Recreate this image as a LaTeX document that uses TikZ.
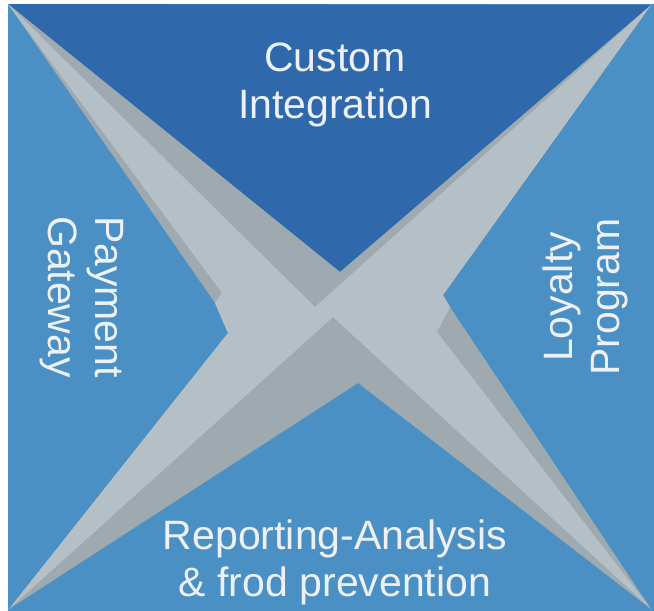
\documentclass[tikz,border=0pt]{standalone}
\usepackage{fontspec}
\setmainfont{Liberation Sans}
\usepackage{tikz}

\definecolor{fieldblue}{HTML}{4A90C4}
\definecolor{topblue}{HTML}{2F69AB}
\definecolor{bladelight}{HTML}{B4C0C5}
\definecolor{bladedark}{HTML}{9EAAAF}
\definecolor{captionwhite}{HTML}{EDF1F6}

\begin{document}
\begin{tikzpicture}[
        x=1pt,y=-1pt,
        caption/.style={text=captionwhite,align=center,font=\fontsize{41}{47}\selectfont},
        bladeshadow/.style={fill=bladedark},
        bladeface/.style={fill=bladelight}
    ]

    \fill[white] (0,0) rectangle (654,611);
    \useasboundingbox (0,0) rectangle (654,611);

    \coordinate (tl) at (8,4);
    \coordinate (tr) at (651,5);
    \coordinate (bl) at (9,609);
    \coordinate (br) at (651,609);

    \fill[fieldblue] (8,4) rectangle (654,611);
    \fill[topblue] (tl) -- (tr) -- (340,272) -- cycle;

    \fill[bladeshadow] (tl) -- (340,272) -- (tr) -- (443,295) -- (450,307)
        -- (br) -- (358,383) -- (bl) -- (228,333) -- (215,303) -- cycle;
    \fill[bladeface] (tl) -- (315,307) -- (tr) -- (443,295) -- (450,307)
        -- (437,332) -- (br) -- (333,317) -- (bl) -- (228,333) -- (215,303)
        -- (222,293) -- cycle;

    \node[caption] (custom) at (335,85) {Custom\\Integration};
    \node[caption,rotate=-90] (payment) at (82,297) {Payment\\Gateway};
    \node[caption,rotate=90] (loyalty) at (585,297) {Loyalty\\Program};
    \node[caption] (reporting) at (335,562) {Reporting-Analysis\\\& frod prevention};

\end{tikzpicture}
\end{document}
